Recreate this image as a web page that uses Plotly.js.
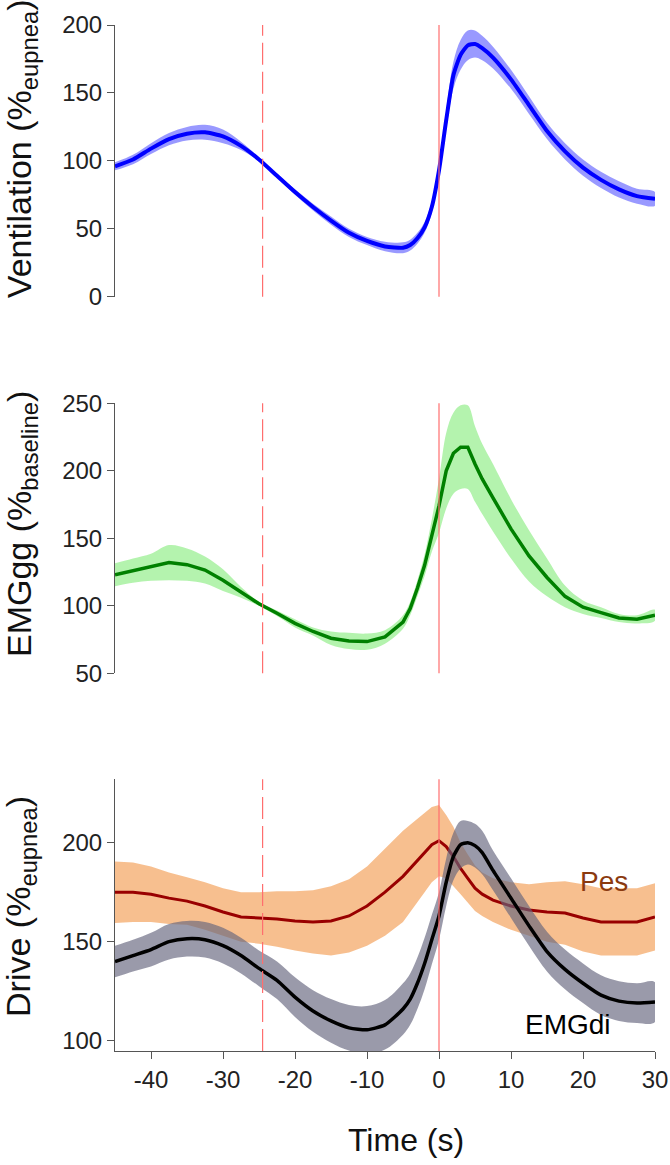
<!DOCTYPE html>
<html>
<head>
<meta charset="utf-8">
<script src="https://cdn.plot.ly/plotly-3.0.1.min.js"></script>
<style>
  body { margin: 0; background: #fff; }
  #chart { width: 670px; height: 1165px; }
</style>
</head>
<body>
<div id="chart"></div>
<script>
// time axis (s), shared by all three panels
const time = [-45, -42.5, -40, -37.5, -35, -32.5, -30, -27.5, -25, -22.5, -20, -17.5, -15, -12.5, -10, -7.5,
  -5, -4, -3, -2, -1, 0, 1, 2, 3, 4, 5, 6, 7.5, 10, 12.5, 15, 17.5, 20, 22.5, 25, 27.5, 30];
const timeTicks = [-40, -30, -20, -10, 0, 10, 20, 30];
const timeTickText = ['-40', '-30', '-20', '-10', '0', '10', '20', '30'];

// ventilation (% eupnea)
const ventMean = [96, 101, 109, 116, 120, 121, 118, 111, 101, 89, 77, 66, 56, 47, 41, 37,
  36, 38, 43, 51, 66, 93, 130, 163, 178, 185, 186, 183, 176, 160, 141, 122, 107, 95, 86, 79, 74, 72];
const ventErr = [3, 3.5, 4, 4.5, 5, 5.5, 5, 3, 1.5, 1.5, 2, 2.5, 3, 3, 3, 3.5,
  4, 4, 4, 4, 4, 4, 7, 10, 11, 11, 10, 9, 8, 7, 6.5, 6, 6, 6, 6, 6, 5.5, 5];

// EMGgg (% baseline)
const ggMean = [123, 126, 128.5, 132, 130.5, 126.5, 119, 110, 101.5, 94.5, 87, 81, 76, 74, 73.5, 77,
  88, 98, 113, 130, 152, 174, 200, 213, 217.5, 217.5, 205, 194, 180, 157, 137, 121, 107, 99, 95, 91, 90, 93];
const ggErr = [8.5, 9, 10, 13, 12, 10, 8, 4, 1.5, 2, 3, 3, 5, 6, 6, 5,
  5, 5, 6, 8, 12, 20, 28, 30, 31, 31, 28, 26, 25, 22, 19, 14, 8, 5, 4, 3, 3, 4];

// drive (% eupnea): oesophageal pressure and diaphragm EMG
const pesMean = [175, 175, 174, 172, 170.5, 168, 165, 162.5, 162, 161.5, 160.5, 160, 160.5, 163, 168, 175,
  183, 187, 191, 195, 199, 201, 198, 193, 187, 182, 177, 174, 171, 168, 166, 165, 164.5, 162, 160, 160, 160, 162.5];
const pesErr = [15.5, 15, 14, 13, 12, 12, 12, 12.5, 13, 14, 15, 16, 17.5, 18.5, 20, 22,
  23, 22, 21, 20, 19, 18, 16, 15, 13, 12, 11.5, 11, 11, 12, 13, 15, 16, 17, 17, 17, 17, 17];
const diMean = [140, 143, 146, 150, 151.5, 151, 148, 143, 136.5, 130.5, 122, 115, 110, 106.5, 105.5, 108,
  116, 121, 129, 139, 151, 163, 180, 193, 199, 200, 198.5, 195, 186, 172, 158, 145, 136, 129, 123, 120, 119, 119.5];
const diErr = [8, 8, 8.5, 9, 9, 9, 9, 9, 9, 9.5, 10, 10.5, 11, 11.5, 12, 12.5,
  13, 13, 13, 13, 12.5, 12, 12, 12, 12, 11, 11, 11, 10, 10, 10, 10, 10, 10, 10, 10, 10, 10];

const eventTimes = [-24.5, 0];

function band(mean, err, fill, xa, ya, shape) {
  const up = mean.map((m, i) => m + err[i]);
  const lo = mean.map((m, i) => m - err[i]).reverse();
  return {
    x: time.concat(time.slice().reverse()),
    y: up.concat(lo),
    xaxis: xa, yaxis: ya,
    type: 'scatter', mode: 'lines',
    fill: 'toself', fillcolor: fill,
    line: { width: 0, shape: shape },
    hoverinfo: 'skip'
  };
}

function curve(mean, color, width, xa, ya, shape) {
  return {
    x: time, y: mean,
    xaxis: xa, yaxis: ya,
    type: 'scatter', mode: 'lines',
    line: { color: color, width: width, shape: shape, smoothing: 0.6 }
  };
}

const data = [
  band(ventMean, ventErr, 'rgba(0,0,255,0.4)', 'x', 'y', 'spline'),
  curve(ventMean, '#0000ff', 4, 'x', 'y', 'spline'),
  band(ggMean, ggErr, 'rgba(130,235,120,0.6)', 'x2', 'y2', 'spline'),
  curve(ggMean, '#008000', 3.5, 'x2', 'y2', 'linear'),
  band(pesMean, pesErr, 'rgba(244,164,96,0.7)', 'x3', 'y3', 'linear'),
  curve(pesMean, '#990000', 3, 'x3', 'y3', 'linear'),
  band(diMean, diErr, 'rgba(100,100,125,0.65)', 'x3', 'y3', 'spline'),
  curve(diMean, '#000000', 3.5, 'x3', 'y3', 'spline')
];

const tickFont = { family: 'Liberation Sans, Arial, sans-serif', size: 24, color: '#222' };

function yAx(domain, range, ticks, anchor) {
  return {
    domain: domain, range: range, tickvals: ticks, anchor: anchor,
    showline: true, linecolor: '#555', linewidth: 1,
    ticks: 'outside', ticklen: 7, tickcolor: '#555',
    showgrid: false, zeroline: false, tickfont: tickFont
  };
}

function xAx(anchor, show) {
  return {
    range: [-45, 30], anchor: anchor, visible: show,
    tickvals: timeTicks, ticktext: timeTickText,
    showline: true, linecolor: '#555', linewidth: 1,
    ticks: 'outside', ticklen: 7, tickcolor: '#555',
    showgrid: false, zeroline: false, tickfont: tickFont
  };
}

// red event lines in every panel
const shapes = [];
['y', 'y2', 'y3'].forEach((ya, k) => {
  const xa = ['x', 'x2', 'x3'][k];
  eventTimes.forEach(t => {
    shapes.push({
      type: 'line', xref: xa, yref: ya + ' domain',
      x0: t, x1: t, y0: 0, y1: 1,
      line: { color: 'rgb(255,110,110)', width: 1.2, dash: t < 0 ? '22px,7px' : 'solid' },
      layer: 'above'
    });
  });
});

const titleFont = { family: 'Liberation Sans, Arial, sans-serif', size: 34, color: '#111' };

const annotations = [
  { text: 'Ventilation (%<sub>eupnea</sub>)', y: 0.879 },
  { text: 'EMGgg (%<sub>baseline</sub>)', y: 0.5136 },
  { text: 'Drive (%<sub>eupnea</sub>)', y: 0.1404 }
].map(a => ({
  text: a.text, xref: 'paper', yref: 'paper', x: 0, y: a.y,
  xshift: -94, xanchor: 'center', yanchor: 'middle',
  textangle: -90, showarrow: false, font: titleFont
}));

annotations.push({
  text: 'Time (s)', xref: 'paper', yref: 'paper', x: 0.539, y: -0.087,
  xanchor: 'center', yanchor: 'middle', showarrow: false,
  font: { family: 'Liberation Sans, Arial, sans-serif', size: 32, color: '#111' }
});
annotations.push({
  text: 'Pes', xref: 'x3', yref: 'y3', x: 22.9, y: 180.4,
  xanchor: 'center', yanchor: 'middle', showarrow: false,
  font: { family: 'Liberation Sans, Arial, sans-serif', size: 28, color: '#8b3a0f' }
});
annotations.push({
  text: 'EMGdi', xref: 'x3', yref: 'y3', x: 17.85, y: 108.4,
  xanchor: 'center', yanchor: 'middle', showarrow: false,
  font: { family: 'Liberation Sans, Arial, sans-serif', size: 28, color: '#000' }
});

const layout = {
  width: 670, height: 1165,
  margin: { l: 115, r: 15, t: 25, b: 114 },
  paper_bgcolor: '#fff', plot_bgcolor: '#fff',
  showlegend: false,
  xaxis: xAx('y', false),
  xaxis2: xAx('y2', false),
  xaxis3: xAx('y3', true),
  yaxis: yAx([0.7352, 1], [0, 200], [0, 50, 100, 150, 200], 'x'),
  yaxis2: yAx([0.3681, 0.6313], [50, 250], [50, 100, 150, 200, 250], 'x2'),
  yaxis3: yAx([0, 0.2648], [94.8, 232], [100, 150, 200], 'x3'),
  shapes: shapes,
  annotations: annotations
};

Plotly.newPlot('chart', data, layout, { displayModeBar: false, staticPlot: true });
</script>
</body>
</html>
